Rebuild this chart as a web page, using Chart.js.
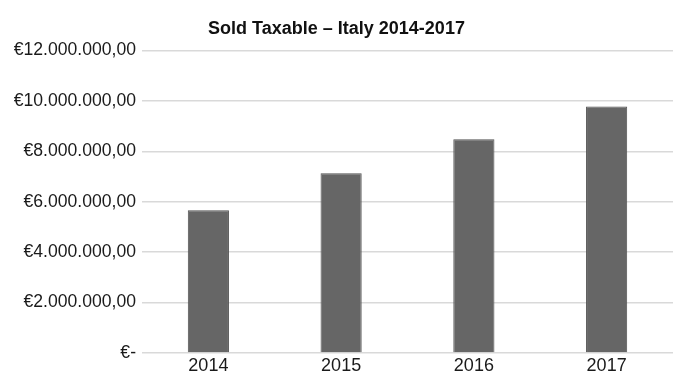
<!DOCTYPE html>
<html>
<head>
<meta charset="utf-8">
<script src="https://cdn.jsdelivr.net/npm/chart.js@4/dist/chart.umd.min.js"></script>
<style>
  html, body { margin: 0; padding: 0; background: #fff; }
  #wrap { width: 673px; height: 379px; }
</style>
</head>
<body>
<div id="wrap"><canvas id="soldChart" width="673" height="379"></canvas></div>
<script>
const years = ["2014", "2015", "2016", "2017"];
const soldTaxable = [5660000, 7130000, 8480000, 9780000];
const yTicks = [0, 2000000, 4000000, 6000000, 8000000, 10000000, 12000000];

const fontFamily = "'Liberation Sans Narrow', 'Arial Narrow', 'Liberation Sans', sans-serif";

// euro format with dots for thousands, "€-" for zero
function euro(v) {
  if (v === 0) return "€-";
  const parts = Math.round(v).toString().replace(/\B(?=(\d{3})+(?!\d))/g, ".");
  return "€" + parts + ",00";
}

const ctx = document.getElementById("soldChart").getContext("2d");
const soldChart = new Chart(ctx, {
  type: "bar",
  data: {
    labels: years,
    datasets: [
      {
        label: "Sold Taxable",
        data: soldTaxable,
        backgroundColor: "#666666",
        borderColor: "#525252",
        borderWidth: 1,
        categoryPercentage: 1,
        barPercentage: 0.31,
      },
    ],
  },
  options: {
    responsive: false,
    animation: false,
    layout: { padding: 0 },
    plugins: {
      legend: { display: false },
      tooltip: { enabled: false },
      title: {
        display: true,
        text: "Sold Taxable – Italy 2014-2017",
        color: "#111",
        font: { family: fontFamily, size: 18, weight: "bold" },
        padding: { top: 18, bottom: 11 },
      },
    },
    scales: {
      x: {
        afterFit: (scale) => {
          scale.height = 26;
        },
        grid: { display: false, drawTicks: false },
        border: { display: false },
        ticks: {
          color: "#1a1a1a",
          font: { family: fontFamily, size: 18, lineHeight: 1 },
          padding: 4,
        },
      },
      y: {
        min: 0,
        max: 12000000,
        afterBuildTicks: (scale) => {
          scale.ticks = yTicks.map((v) => ({ value: v }));
        },
        afterFit: (scale) => {
          scale.width = 142;
        },
        grid: { color: "#d9d9d9", lineWidth: 1.5, drawTicks: false },
        border: { display: false },
        ticks: {
          color: "#1a1a1a",
          font: { family: fontFamily, size: 17.6 },
          padding: 6,
          callback: (v) => euro(v),
        },
      },
    },
  },
});
</script>
</body>
</html>
